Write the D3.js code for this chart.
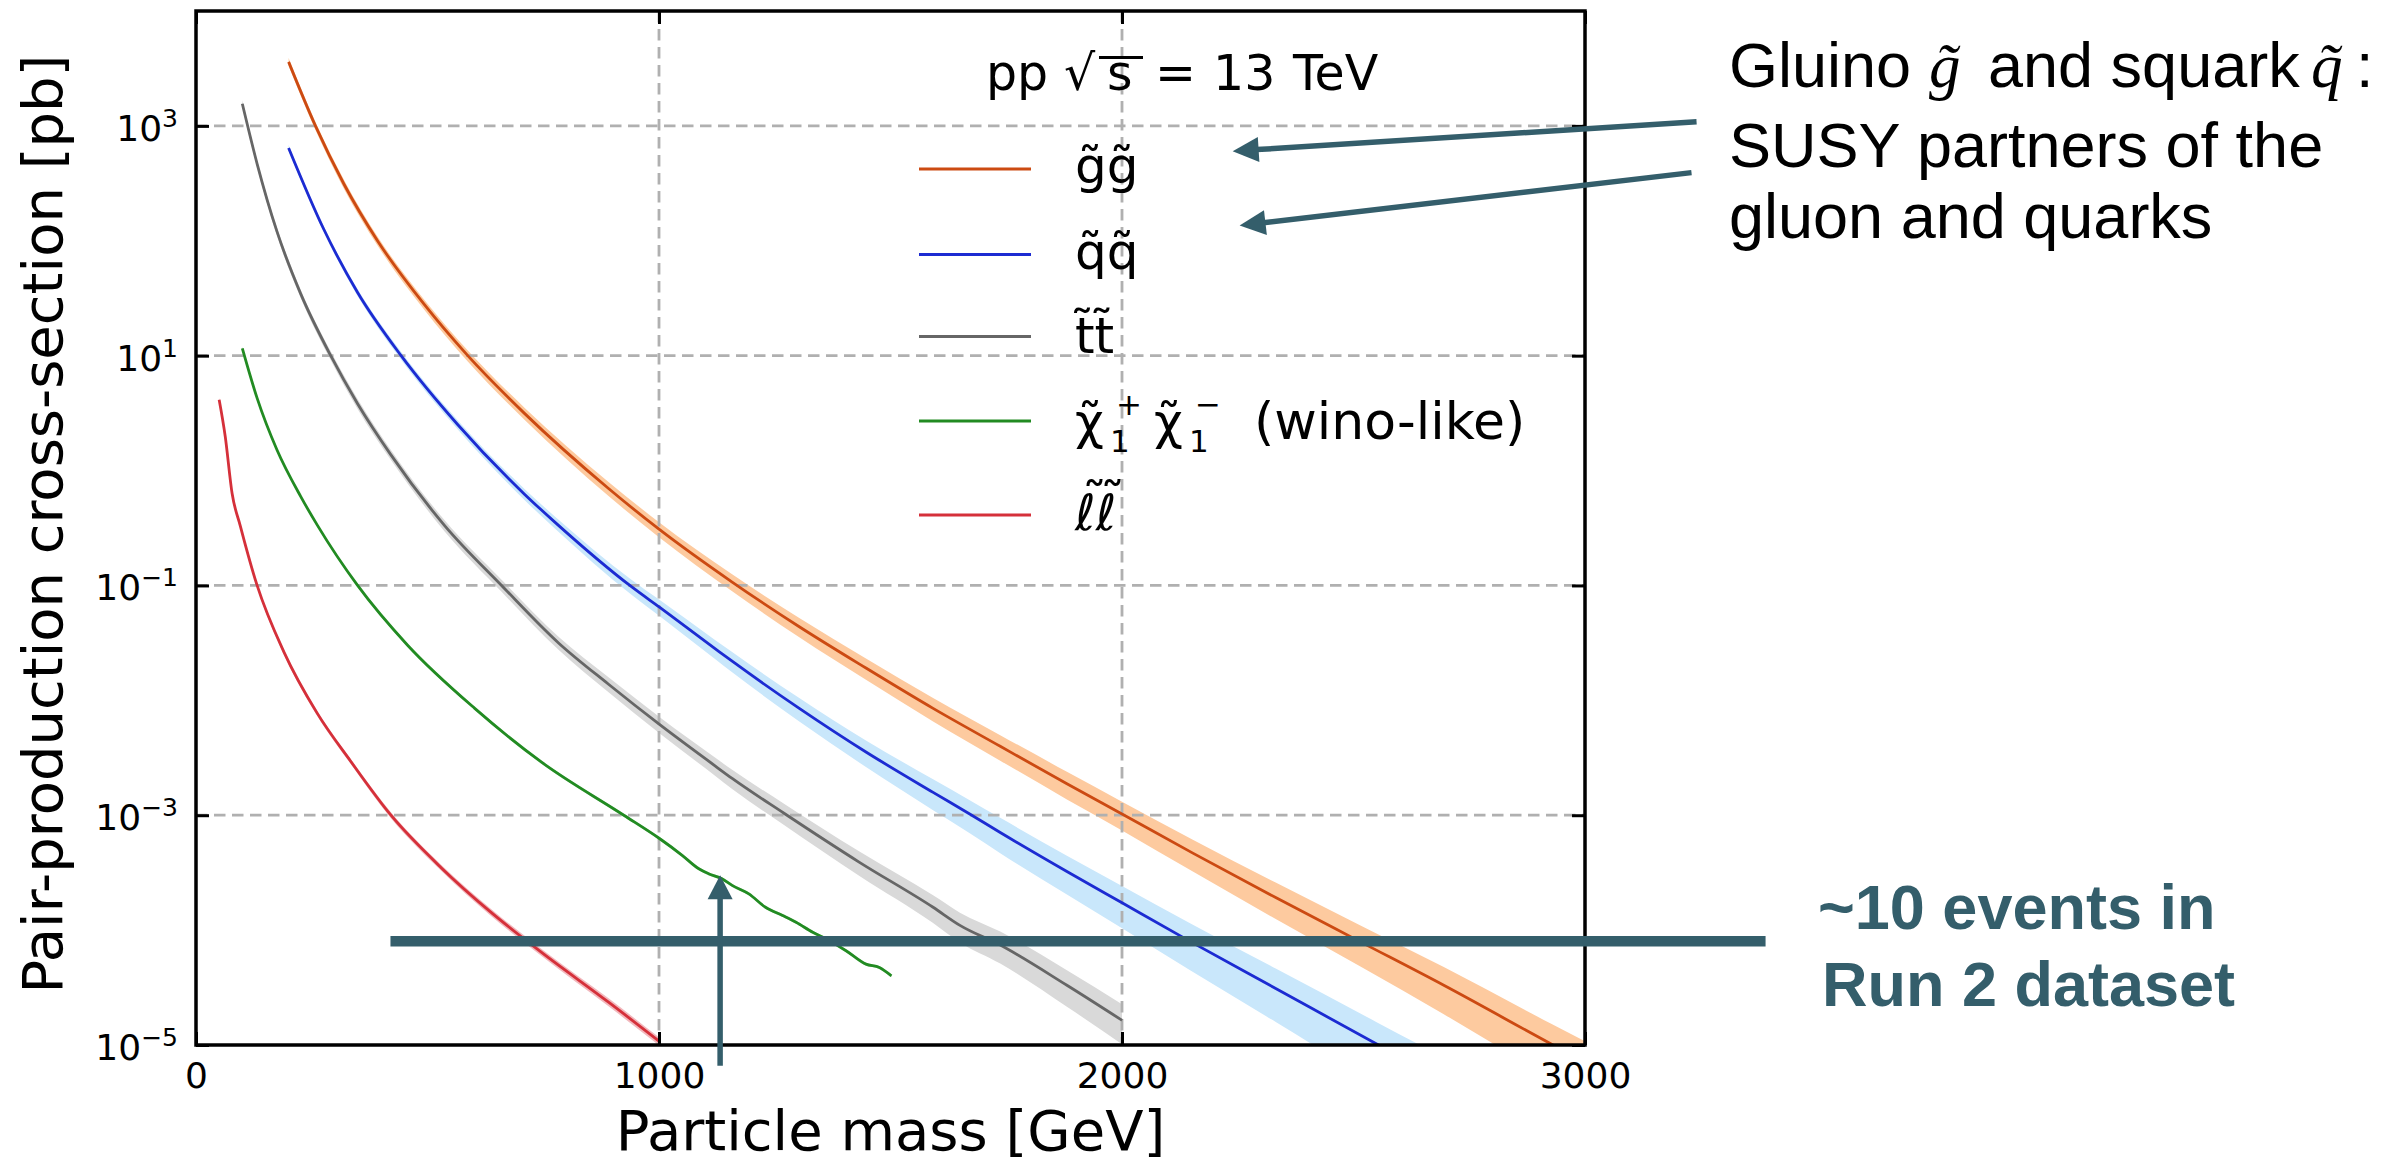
<!DOCTYPE html>
<html><head><meta charset="utf-8">
<script src="https://cdn.jsdelivr.net/npm/d3@7"></script>
<style>body{margin:0;background:#fff} svg{display:block}</style>
</head><body>
<svg id="chart" width="2399" height="1163"></svg>
<script>
// ---------------- data ----------------
const gluinoMass = [200, 258, 320, 392, 493, 587, 710, 891, 1000, 1158, 1303, 1447, 1592, 1737, 1881, 2001, 2153, 2333, 2514, 2695, 2927, 3000];
const gluinoXsec = [3606, 1000, 309, 100, 27.9, 10.0, 3.13, 0.698, 0.309, 0.107, 0.0437, 0.0191, 0.00851, 0.00398, 0.00188, 0.00102, 4.68e-4, 1.91e-4, 7.94e-5, 3.31e-5, 1.02e-5, 7.08e-6];
const gluinoUnc  = [0.08, 0.08, 0.09, 0.09, 0.10, 0.11, 0.12, 0.14, 0.15, 0.17, 0.19, 0.21, 0.23, 0.25, 0.27, 0.28, 0.31, 0.35, 0.39, 0.44, 0.50, 0.52];

const squarkMass = [200, 276, 349, 443, 566, 710, 775, 942, 1001, 1121, 1158, 1303, 1447, 1592, 1672, 1737, 1881, 2001, 2148, 2333, 2550, 2650];
const squarkXsec = [643, 126, 35.5, 10, 2.49, 0.62, 0.356, 0.0965, 0.0646, 0.0282, 0.0219, 0.00851, 0.00355, 0.00158, 0.00102, 7.08e-4, 3.24e-4, 1.72e-4, 7.94e-5, 3.09e-5, 1.02e-5, 6.17e-6];
const squarkUnc  = [0.06, 0.06, 0.07, 0.08, 0.09, 0.11, 0.12, 0.15, 0.16, 0.19, 0.20, 0.23, 0.26, 0.30, 0.32, 0.34, 0.37, 0.40, 0.44, 0.49, 0.55, 0.57];

const stopMass = [100, 132, 175, 226, 291, 349, 421, 537, 660, 783, 891, 1001, 1121, 1158, 1270, 1433, 1592, 1650, 1737, 1881, 2000];
const stopXsec = [1560, 468, 120, 34.7, 10, 3.82, 1.37, 0.332, 0.1, 0.0316, 0.0138, 0.00617, 0.00269, 0.00209, 0.00104, 3.89e-4, 1.58e-4, 1.1e-4, 7.41e-5, 3.31e-5, 1.64e-5];
const stopUnc  = [0.07, 0.07, 0.08, 0.08, 0.09, 0.10, 0.10, 0.11, 0.12, 0.13, 0.15, 0.16, 0.18, 0.19, 0.21, 0.24, 0.27, 0.29, 0.31, 0.35, 0.38];

const charginoMass = [100, 132, 175, 226, 262, 349, 457, 602, 747, 924, 1001, 1050, 1086, 1107, 1136, 1158, 1194, 1230, 1267, 1296, 1332, 1361, 1404, 1447, 1476, 1502];
const charginoXsec = [11.6, 4.27, 1.51, 0.596, 0.335, 0.1, 0.0302, 0.00851, 0.00288, 0.001, 6.27e-4, 4.48e-4, 3.42e-4, 3.1e-4, 2.8e-4, 2.45e-4, 2.07e-4, 1.58e-4, 1.34e-4, 1.17e-4, 9.57e-5, 8.36e-5, 6.62e-5, 5.06e-5, 4.73e-5, 4.0e-5];
const charginoUnc  = [0.03, 0.03, 0.03, 0.03, 0.03, 0.03, 0.03, 0.03, 0.03, 0.03, 0.03, 0.03, 0.03, 0.03, 0.03, 0.03, 0.03, 0.03, 0.03, 0.03, 0.03, 0.03, 0.03, 0.03, 0.03, 0.03];

const sleptonMass = [50, 63, 78, 95.5, 132, 190, 262, 334, 421, 530, 638, 747, 891, 1000];
const sleptonXsec = [4.14, 2.0, 0.631, 0.332, 0.1, 0.0263, 0.0077, 0.00295, 0.001, 3.48e-4, 1.42e-4, 6.37e-5, 2.36e-5, 1.08e-5];
const sleptonUnc  = [0.04, 0.04, 0.04, 0.04, 0.04, 0.05, 0.05, 0.05, 0.06, 0.06, 0.07, 0.07, 0.08, 0.08];

const xTickValues = [0, 1000, 2000, 3000];
const yTickValues = [1e-5, 1e-3, 1e-1, 1e1, 1e3];
const yTickExponents = ["\u22125", "\u22123", "\u22121", "1", "3"];

// annotations, in data units
const eventsLevel = 8e-5;             // ~10 events in Run 2
const eventsMassRange = [420, 3390];
const upArrow = {mass: 1132, from: 6.6e-6, to: 3.0e-4};
const sideArrows = [
  {m1: 3241, v1: 1088, m2: 2239, v2: 603},
  {m1: 3230, v1: 392, m2: 2254, v2: 135.5}
];

// ---------------- layout ----------------
const W = 2399, H = 1163;
const X0 = 196, X1 = 1585, Y0 = 11, Y1 = 1045;
const TEAL = "#345e6b";
const SANS = "'DejaVu Sans', sans-serif";
const HELV = "'Liberation Sans', Arial, sans-serif";
const SERIF = "'Liberation Serif', 'DejaVu Serif', serif";

const series = [
  {mass: gluinoMass, xsec: gluinoXsec, unc: gluinoUnc, color: "#cc4a12", band: "#fdca9f"},
  {mass: squarkMass, xsec: squarkXsec, unc: squarkUnc, color: "#1c2bd2", band: "#c9e7fb"},
  {mass: stopMass, xsec: stopXsec, unc: stopUnc, color: "#666666", band: "#d9d9d9"},
  {mass: charginoMass, xsec: charginoXsec, unc: charginoUnc, color: "#228b22", band: "#b5dcb5"},
  {mass: sleptonMass, xsec: sleptonXsec, unc: sleptonUnc, color: "#d5303a", band: "#f2b8bd"}
];

const svg = d3.select("#chart");
svg.append("rect").attr("width", W).attr("height", H).attr("fill", "#fff");

const x = d3.scaleLinear().domain([0, 3000]).range([X0, X1]);
const y = d3.scaleLog().domain([1e-5, 1e4]).range([Y1, Y0]);

svg.append("defs").append("clipPath").attr("id", "plotclip")
  .append("rect").attr("x", X0).attr("y", Y0).attr("width", X1 - X0).attr("height", Y1 - Y0);

// bands
const bandsG = svg.append("g").attr("clip-path", "url(#plotclip)");
series.forEach(s => {
  const pts = s.mass.map((m, i) => ({m, v: s.xsec[i], u: s.unc[i]}));
  const area = d3.area()
    .x(d => x(d.m))
    .y0(d => y(d.v * (1 - d.u)))
    .y1(d => y(d.v * (1 + d.u)))
    .curve(d3.curveMonotoneX);
  bandsG.append("path").datum(pts).attr("d", area).attr("fill", s.band).attr("stroke", "none");
});

// grid
const gridG = svg.append("g").attr("stroke", "#b0b0b0").attr("stroke-width", 2.8).attr("stroke-dasharray", "11.5,6.5");
yTickValues.filter(v => v > 1e-5).forEach(v => {
  gridG.append("line").attr("x1", X0).attr("x2", X1).attr("y1", y(v)).attr("y2", y(v));
});
xTickValues.filter(v => v > 0 && v < 3000).forEach(v => {
  gridG.append("line").attr("x1", x(v)).attr("x2", x(v)).attr("y1", Y0).attr("y2", Y1);
});

// lines
const linesG = svg.append("g").attr("clip-path", "url(#plotclip)");
series.forEach(s => {
  const pts = s.mass.map((m, i) => ({m, v: s.xsec[i]}));
  const line = d3.line().x(d => x(d.m)).y(d => y(d.v)).curve(d3.curveMonotoneX);
  linesG.append("path").datum(pts).attr("d", line).attr("fill", "none")
    .attr("stroke", s.color).attr("stroke-width", 2.8).attr("stroke-linejoin", "round");
});

// axes
function styleAxis(g) {
  g.select(".domain").remove();
  g.selectAll(".tick line").attr("stroke", "#000").attr("stroke-width", 3);
}
const yAxisL = svg.append("g").attr("transform", `translate(${X0},0)`)
  .call(d3.axisLeft(y).tickValues(yTickValues).tickSizeInner(-13).tickSizeOuter(0).tickPadding(18).tickFormat(() => "10"));
styleAxis(yAxisL);
yAxisL.selectAll(".tick text").attr("font-family", SANS).attr("font-size", 36).attr("fill", "#000").attr("dy", "0.4em")
  .append("tspan").attr("dy", -14).attr("font-size", 25).text((d, i) => yTickExponents[i]);

const yAxisR = svg.append("g").attr("transform", `translate(${X1},0)`)
  .call(d3.axisRight(y).tickValues(yTickValues).tickSizeInner(-13).tickSizeOuter(0).tickFormat(""));
styleAxis(yAxisR);

const xAxisB = svg.append("g").attr("transform", `translate(0,${Y1})`)
  .call(d3.axisBottom(x).tickValues(xTickValues).tickSizeInner(-13).tickSizeOuter(0).tickPadding(17).tickFormat(d3.format("d")));
styleAxis(xAxisB);
xAxisB.selectAll(".tick text").attr("font-family", SANS).attr("font-size", 36).attr("fill", "#000");

const xAxisT = svg.append("g").attr("transform", `translate(0,${Y0})`)
  .call(d3.axisTop(x).tickValues(xTickValues).tickSizeInner(-13).tickSizeOuter(0).tickFormat(""));
styleAxis(xAxisT);

// frame
svg.append("rect").attr("x", X0).attr("y", Y0).attr("width", X1 - X0).attr("height", Y1 - Y0)
  .attr("fill", "none").attr("stroke", "#000").attr("stroke-width", 3.5);

// axis titles
svg.append("text").attr("x", (X0 + X1) / 2).attr("y", 1150).attr("text-anchor", "middle")
  .attr("font-family", SANS).attr("font-size", 56).text("Particle mass [GeV]");
svg.append("text").attr("transform", "translate(62,524) rotate(-90)").attr("text-anchor", "middle")
  .attr("font-family", SANS).attr("font-size", 56).text("Pair-production cross-section [pb]");

// legend title: pp sqrt(s) = 13 TeV
const lt = svg.append("text").attr("y", 90).attr("font-family", SANS).attr("font-size", 49).attr("fill", "#000");
lt.append("tspan").attr("x", 986).text("pp");
lt.append("tspan").attr("x", 1064).text("\u221A");
lt.append("tspan").attr("x", 1107).text("s");
lt.append("tspan").attr("x", 1155).text("=");
lt.append("tspan").attr("x", 1213).text("13");
lt.append("tspan").attr("x", 1293).text("TeV");
svg.append("line").attr("x1", 1099).attr("x2", 1143).attr("y1", 57.6).attr("y2", 57.6)
  .attr("stroke", "#000").attr("stroke-width", 3);

// legend entries
const legendRows = [169, 254.5, 336.5, 421, 515];
const legendBase = [182.5, 269, 353, 438.6, 530];
legendRows.forEach((ry, i) => {
  svg.append("line").attr("x1", 919).attr("x2", 1031).attr("y1", ry).attr("y2", ry)
    .attr("stroke", series[i].color).attr("stroke-width", 3);
});
function legText(i) {
  return svg.append("text").attr("y", legendBase[i]).attr("font-family", SANS).attr("font-size", 50).attr("fill", "#000");
}
legText(0).append("tspan").attr("x", 1075).text("g\u0303g\u0303");
legText(1).append("tspan").attr("x", 1075).text("q\u0303q\u0303");
legText(2).append("tspan").attr("x", 1075).text("t\u0303t\u0303");
const chiT = legText(3);
chiT.append("tspan").attr("x", 1075).attr("y", legendBase[3]).text("\u03C7\u0303");
chiT.append("tspan").attr("x", 1110).attr("y", 452).attr("font-size", 31).text("1");
chiT.append("tspan").attr("x", 1116).attr("y", 415).attr("font-size", 31).text("+");
chiT.append("tspan").attr("x", 1154).attr("y", legendBase[3]).text("\u03C7\u0303");
chiT.append("tspan").attr("x", 1189).attr("y", 452).attr("font-size", 31).text("1");
chiT.append("tspan").attr("x", 1195).attr("y", 415).attr("font-size", 31).text("\u2212");
chiT.append("tspan").attr("x", 1254).attr("y", legendBase[3]).attr("font-size", 52).text("(wino-like)");
const ellT = legText(4);
ellT.append("tspan").attr("x", 1075).attr("font-style", "italic").text("\u2113\u2113");
ellT.append("tspan").attr("x", 1082).attr("y", legendBase[4] - 12).text("\u02DC");
ellT.append("tspan").attr("x", 1100).attr("y", legendBase[4] - 12).text("\u02DC");

// ---------------- annotations ----------------
function arrow(x1, y1, x2, y2, color, sw, headLen, headW) {
  const dx = x2 - x1, dy = y2 - y1, L = Math.hypot(dx, dy);
  const ux = dx / L, uy = dy / L, nx = -uy, ny = ux;
  const bx = x2 - ux * headLen, by = y2 - uy * headLen;
  svg.append("line").attr("x1", x1).attr("y1", y1).attr("x2", bx + ux * 2).attr("y2", by + uy * 2)
    .attr("stroke", color).attr("stroke-width", sw);
  svg.append("path").attr("d", `M${x2},${y2}L${bx + nx * headW / 2},${by + ny * headW / 2}L${bx - nx * headW / 2},${by - ny * headW / 2}Z`)
    .attr("fill", color);
}

// ~10 events line
svg.append("line").attr("x1", x(eventsMassRange[0])).attr("x2", x(eventsMassRange[1]))
  .attr("y1", y(eventsLevel)).attr("y2", y(eventsLevel)).attr("stroke", TEAL).attr("stroke-width", 10.5);

arrow(x(upArrow.mass), y(upArrow.from), x(upArrow.mass), y(upArrow.to), TEAL, 5.5, 24, 25);
sideArrows.forEach(a => arrow(x(a.m1), y(a.v1), x(a.m2), y(a.v2), TEAL, 5.5, 26, 25));

// right-hand texts
const t1 = svg.append("text").attr("y", 87).attr("font-family", HELV).attr("font-size", 63).attr("fill", "#000");
t1.append("tspan").attr("x", 1729).text("Gluino");
t1.append("tspan").attr("x", 1929).attr("font-family", SERIF).attr("font-style", "italic").text("g\u0303");
t1.append("tspan").attr("x", 1988).text("and squark");
t1.append("tspan").attr("x", 2311).attr("font-family", SERIF).attr("font-style", "italic").text("q\u0303");
t1.append("tspan").attr("x", 2356).text(":");
svg.append("text").attr("x", 1729).attr("y", 167).attr("font-family", HELV).attr("font-size", 63).text("SUSY partners of the");
svg.append("text").attr("x", 1729).attr("y", 238).attr("font-family", HELV).attr("font-size", 63).text("gluon and quarks");

svg.append("text").attr("x", 1818).attr("y", 929).attr("font-family", HELV).attr("font-weight", "bold")
  .attr("font-size", 63).attr("fill", TEAL).text("~10 events in");
svg.append("text").attr("x", 1822).attr("y", 1006).attr("font-family", HELV).attr("font-weight", "bold")
  .attr("font-size", 63).attr("fill", TEAL).text("Run 2 dataset");
</script>
</body></html>
